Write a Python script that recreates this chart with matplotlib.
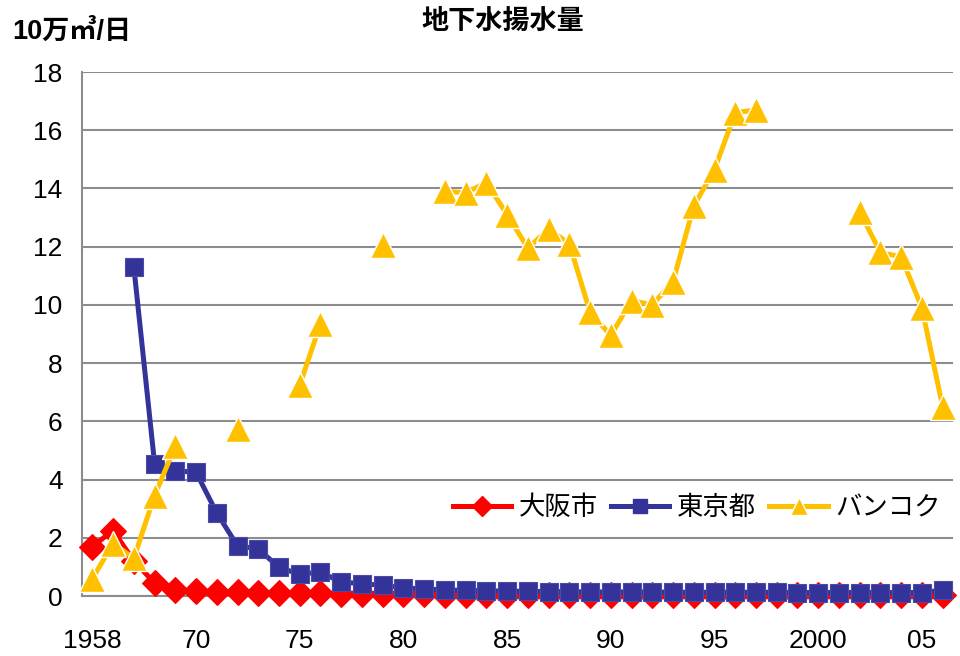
import numpy as np
import matplotlib.pyplot as plt
from matplotlib.lines import Line2D

plt.rcParams['font.family'] = ['Liberation Sans', 'Noto Sans CJK JP']

nan = np.nan

# 地下水揚水量 (10万m3/日), one value per category on the x axis
osaka = [1.7, 2.25, 1.2, 0.45, 0.2, 0.17, 0.15, 0.13, 0.12, 0.1,
         0.1, 0.09, 0.08, 0.07, 0.07, 0.06, 0.06, 0.05, 0.05, 0.05,
         0.04, 0.04, 0.04, 0.04, 0.04, 0.04, 0.03, 0.03, 0.03, 0.03,
         0.03, 0.03, 0.03, 0.03, 0.03, 0.03, 0.03, 0.03, 0.03, 0.03,
         0.03, 0.03]
tokyo = [nan, nan, 11.3, 4.55, 4.3, 4.25, 2.85, 1.72, 1.62, 0.98,
         0.75, 0.82, 0.48, 0.42, 0.37, 0.28, 0.24, 0.21, 0.19, 0.18,
         0.17, 0.16, 0.15, 0.15, 0.14, 0.14, 0.14, 0.14, 0.13, 0.13,
         0.13, 0.13, 0.13, 0.13, 0.12, 0.12, 0.12, 0.12, 0.12, 0.12,
         0.12, 0.2]
bangkok = [0.6, 1.8, 1.3, 3.45, 5.15, nan, nan, 5.75, nan, nan,
           7.25, 9.35, nan, nan, 12.05, nan, nan, 13.9, 13.85, 14.2,
           13.1, 11.95, 12.6, 12.1, 9.75, 8.95, 10.15, 10.0, 10.8, 13.4,
           14.65, 16.6, 16.7, nan, nan, nan, nan, 13.2, 11.8, 11.65,
           9.9, 6.5]

tick_labels = ['1958', '70', '75', '80', '85', '90', '95', '2000', '05']
names = ['大阪市', '東京都', 'バンコク']

red = '#FF0000'
blue = '#333399'
yellow = '#FFC000'
grid = '#8C8C8C'

x = np.arange(len(osaka))

fig = plt.figure(figsize=(9.6, 6.56), dpi=100)
ax = fig.add_axes([82/960, 60/656, 871/960, 524/656])

ax.plot(x, osaka, color=red, lw=3.6, marker='D', ms=13.5,
        mfc=red, mec=red, mew=0.8, zorder=3, clip_on=False)
ax.plot(x, tokyo, color=blue, lw=3.6, marker='s', ms=13,
        mfc=blue, mec='#4a4aa8', mew=0.8, zorder=4, clip_on=False)
ax.plot(x, bangkok, color=yellow, lw=3.6, marker='^', ms=19,
        mfc=yellow, mec='white', mew=1.0, zorder=5, clip_on=False)

ax.set_xlim(-0.5, len(osaka) - 0.5)
ax.set_ylim(0, 18)
ax.set_yticks(np.arange(0, 19, 2))
ax.set_xticks(np.arange(0, len(osaka), 5))
ax.set_xticklabels(tick_labels)
ax.tick_params(axis='both', length=0, labelsize=19)
ax.tick_params(axis='x', pad=24)
ax.tick_params(axis='y', pad=14)

ax.yaxis.grid(True, color=grid, lw=1.5)
ax.set_axisbelow(True)
for side in ['top', 'right']:
    ax.spines[side].set_visible(False)
for side in ['left', 'bottom']:
    ax.spines[side].set_color(grid)
    ax.spines[side].set_linewidth(1.5)

handles = [
    Line2D([], [], color=red, lw=3.6, marker='D', ms=10, mfc=red, mec=red),
    Line2D([], [], color=blue, lw=3.6, marker='s', ms=10, mfc=blue, mec=blue),
    Line2D([], [], color=yellow, lw=3.6, marker='^', ms=13, mfc=yellow, mec='white'),
]
ax.legend(handles, names, loc='center', bbox_to_anchor=(0.706, 0.168), ncol=3,
          frameon=False, fontsize=19, handlelength=2.2, handletextpad=0.3,
          columnspacing=0.5)

fig.text(503/960, 1 - 22/656, '地下水揚水量', ha='center', va='center',
         fontsize=19.5, fontweight='bold')
fig.text(12/960, 1 - 32/656, '10万㎥/日', ha='left', va='center',
         fontsize=19.5, fontweight='bold')

fig.savefig('out.png', dpi=100)
